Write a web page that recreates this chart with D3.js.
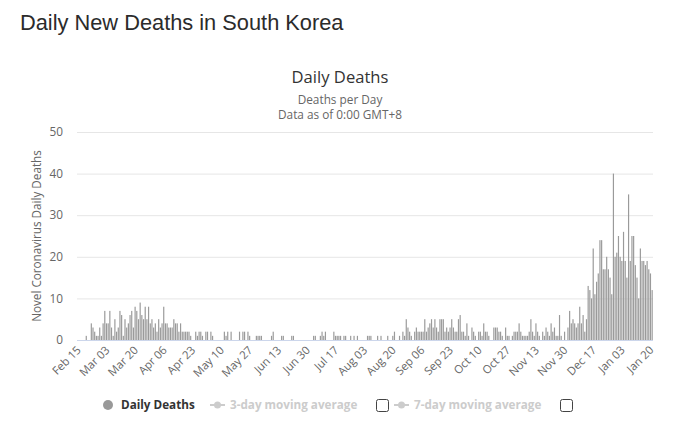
<!DOCTYPE html>
<html>
<head>
<meta charset="utf-8">
<script src="https://cdn.jsdelivr.net/npm/d3@7"></script>
<style>
  html, body { margin: 0; padding: 0; background: #fff; }
  svg { display: block; }
</style>
</head>
<body>
<svg id="chart" width="680" height="441"></svg>
<script>
// ---- data ----
const startDate = "2020-02-15";
const endDate = "2021-01-22"; // exclusive
const tickLabels = ["Feb 15","Mar 03","Mar 20","Apr 06","Apr 23","May 10","May 27","Jun 13","Jun 30","Jul 17","Aug 03","Aug 20","Sep 06","Sep 23","Oct 10","Oct 27","Nov 13","Nov 30","Dec 17","Jan 03","Jan 20"];
const yTicks = [0, 10, 20, 30, 40, 50];
const deaths = [
  0,0,0,0,0,1,0,0,4,3,2,1,1,3,1,4,7,4,4,7,
  3,1,5,2,3,7,6,1,5,3,4,6,7,3,8,7,5,9,6,5,
  8,5,8,4,5,3,4,2,5,3,4,8,4,4,3,3,3,5,4,4,
  2,4,2,2,2,2,2,1,0,0,2,1,2,2,1,0,2,2,0,2,
  1,0,0,0,0,0,0,2,1,2,0,2,0,0,0,0,2,0,2,2,
  0,2,1,0,0,0,1,1,1,1,0,0,0,0,0,1,2,0,0,0,
  0,1,1,0,0,0,0,1,1,0,0,0,0,0,0,0,0,0,0,0,
  1,1,0,0,1,2,1,2,0,0,0,0,2,1,1,1,1,0,1,1,
  0,0,1,0,1,0,1,0,0,0,0,0,1,1,1,0,0,0,1,0,
  1,0,0,0,1,0,0,1,2,0,0,1,0,2,1,5,3,2,1,0,
  2,3,2,2,2,2,5,2,3,4,5,3,5,3,2,5,5,5,2,3,
  2,3,5,3,2,2,5,6,2,2,1,4,1,0,3,2,1,0,2,2,
  1,4,2,2,1,0,0,3,3,3,2,2,1,0,3,1,1,0,1,2,
  2,2,4,2,1,1,1,1,2,5,2,1,4,2,1,0,2,1,3,2,
  1,4,2,3,1,1,6,1,0,2,0,3,7,4,5,4,3,4,8,4,
  6,2,5,13,12,10,22,11,14,16,24,24,17,17,20,17,15,11,40,20,
  21,25,20,19,26,19,15,35,19,25,25,18,15,10,22,19,19,18,19,17,16,12
];
const legendItems = ["Daily Deaths", "3-day moving average", "7-day moving average"];

// ---- categories ----
const fmt = d3.timeFormat("%b %d");
const parse = d3.timeParse("%Y-%m-%d");
const days = d3.timeDay.range(parse(startDate), parse(endDate));
const categories = days.map(fmt);
const data = deaths.map((v, i) => ({ cat: categories[i], v }));

const FONT = "'Lucida Grande','Open Sans','DejaVu Sans',sans-serif";
const svg = d3.select("#chart");

// page title
svg.append("text").attr("x", 20).attr("y", 30)
  .attr("font-family", "'Liberation Sans', Arial, Helvetica, sans-serif")
  .attr("font-size", 21.8).attr("fill", "#2b2b2b")
  .text("Daily New Deaths in South Korea");

// chart title/subtitle
svg.append("text").attr("x", 340).attr("y", 83).attr("text-anchor", "middle")
  .attr("font-family", FONT).attr("font-size", 16.6).attr("fill", "#333")
  .text("Daily Deaths");
svg.append("text").attr("x", 340).attr("y", 104).attr("text-anchor", "middle")
  .attr("font-family", FONT).attr("font-size", 11.8).attr("fill", "#666")
  .text("Deaths per Day");
svg.append("text").attr("x", 340).attr("y", 119).attr("text-anchor", "middle")
  .attr("font-family", FONT).attr("font-size", 11.8).attr("fill", "#666")
  .text("Data as of 0:00 GMT+8");

const pL = 77, pR = 653, pT = 132, pB = 340;
const x = d3.scaleBand().domain(categories.slice(0, deaths.length)).range([pL, pR]).paddingInner(0.3).paddingOuter(0.15);
const y = d3.scaleLinear().domain([0, 50]).range([pB, pT]);

// y axis with grid
const yAxis = svg.append("g").attr("transform", `translate(${pL},0)`)
  .call(d3.axisLeft(y).tickValues(yTicks).tickSize(-(pR - pL)).tickPadding(14));
yAxis.select(".domain").remove();
yAxis.selectAll(".tick line").attr("stroke", "#e6e6e6");
yAxis.selectAll(".tick text").attr("font-family", FONT).attr("font-size", 11.8).attr("fill", "#666");

svg.append("text")
  .attr("transform", `translate(41,${(pT + pB) / 2}) rotate(-90)`)
  .attr("text-anchor", "middle")
  .attr("font-family", FONT).attr("font-size", 11.7).attr("fill", "#666")
  .text("Novel Coronavirus Daily Deaths");

// bars
svg.append("g").selectAll("rect").data(data).join("rect")
  .attr("x", d => x(d.cat))
  .attr("width", x.bandwidth())
  .attr("y", d => y(d.v))
  .attr("height", d => pB - y(d.v))
  .attr("fill", "#9a9a9a");

// x axis
const tickCats = tickLabels.map((t, i) => categories[i * 17]);
const xAxis = svg.append("g").attr("transform", `translate(0,${pB})`)
  .call(d3.axisBottom(x).tickValues(tickCats).tickSize(0).tickFormat((d, i) => tickLabels[i]));
xAxis.select(".domain").attr("stroke", "#ccd6eb").attr("d", `M${pL},0.5H${pR}`);
xAxis.selectAll(".tick text")
  .attr("font-family", FONT).attr("font-size", 11.3).attr("fill", "#666")
  .attr("text-anchor", "end")
  .attr("transform", "translate(1,8) rotate(-45)")
  .attr("dy", "0.35em").attr("y", 0);

// legend
const lg = svg.append("g").attr("font-family", FONT).attr("font-size", 11.7).attr("font-weight", "bold");
lg.append("circle").attr("cx", 108).attr("cy", 405).attr("r", 5).attr("fill", "#999");
lg.append("text").attr("x", 121).attr("y", 409).attr("fill", "#333").text(legendItems[0]);

function maSymbol(x0) {
  lg.append("line").attr("x1", x0).attr("x2", x0 + 15).attr("y1", 405).attr("y2", 405)
    .attr("stroke", "#ccc").attr("stroke-width", 2);
  lg.append("circle").attr("cx", x0 + 7.5).attr("cy", 405).attr("r", 3.5).attr("fill", "#ccc");
}
maSymbol(210);
lg.append("text").attr("x", 230).attr("y", 409).attr("fill", "#ccc").text(legendItems[1]);
lg.append("rect").attr("x", 376.5).attr("y", 399.5).attr("width", 12).attr("height", 12).attr("rx", 2)
  .attr("fill", "#fff").attr("stroke", "#444").attr("stroke-width", 1);
maSymbol(394);
lg.append("text").attr("x", 414).attr("y", 409).attr("fill", "#ccc").text(legendItems[2]);
lg.append("rect").attr("x", 560.5).attr("y", 399.5).attr("width", 12).attr("height", 12).attr("rx", 2)
  .attr("fill", "#fff").attr("stroke", "#444").attr("stroke-width", 1);
</script>
</body>
</html>
